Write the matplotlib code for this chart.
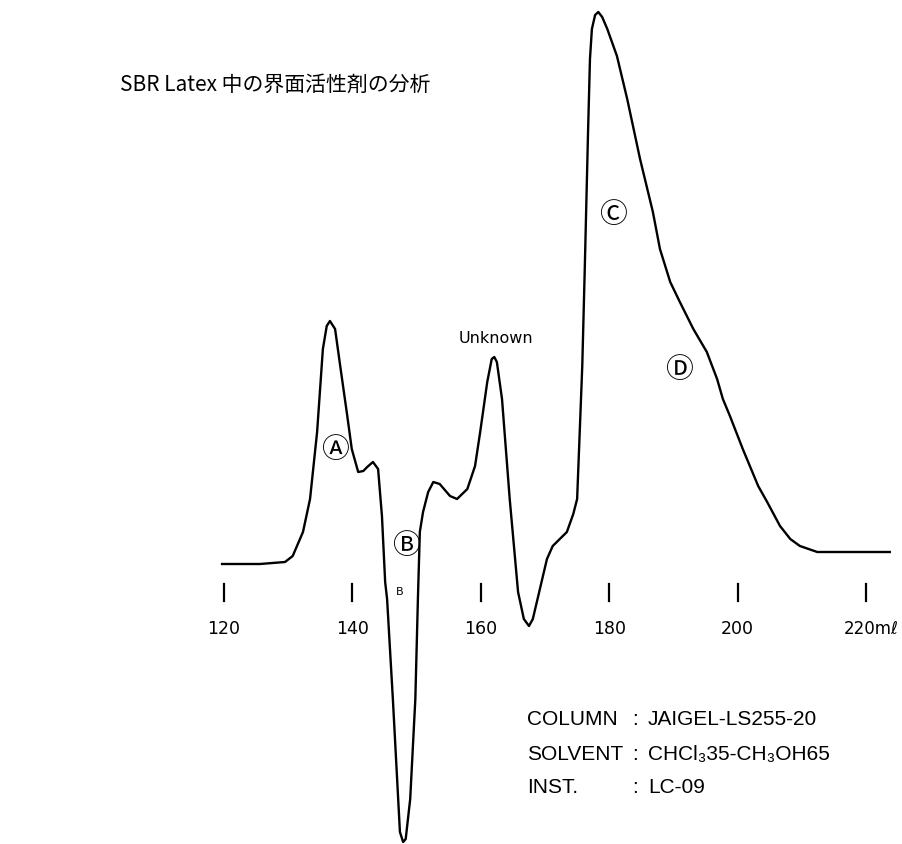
import matplotlib
matplotlib.use("Agg")
import matplotlib.pyplot as plt

# elution volume (mL) and detector response (arbitrary units, baseline = 0)
volume = [119.7, 125.6, 129.5, 130.7, 132.3, 133.4, 134.5, 135.4, 136.0, 136.5,
          137.3, 138.1, 139.2, 139.9, 140.9, 141.7, 142.3, 143.2, 144.0, 144.6,
          145.1, 145.4, 146.3, 147.4, 147.9, 148.3, 149.0, 149.8, 150.2, 150.5,
          151.0, 151.8, 152.6, 153.6, 155.2, 156.3, 157.9, 159.1, 159.9, 161.0,
          161.7, 162.1, 162.5, 163.3, 164.5, 165.8, 166.7, 167.5, 168.1, 169.2,
          170.3, 171.2, 172.3, 173.4, 174.4, 175.0, 175.5, 175.8, 176.2, 176.7,
          177.0, 177.3, 177.8, 178.3, 178.9, 179.7, 181.2, 182.8, 184.8, 186.8,
          187.9, 189.5, 191.0, 193.1, 195.2, 196.8, 197.7, 198.8, 200.8, 203.2,
          204.6, 206.6, 208.2, 209.7, 212.4, 223.7]
response = [0, 0, 2, 8, 32, 65, 132, 215, 238, 243,
            235, 198, 148, 115, 92, 93, 97, 102, 95, 48,
            -18, -35, -135, -268, -278, -275, -235, -135, -35, 32,
            52, 72, 82, 80, 68, 65, 75, 98, 132, 182,
            205, 207, 202, 165, 65, -28, -55, -62, -55, -25,
            5, 18, 25, 32, 50, 65, 148, 198, 298, 432,
            505, 535, 549, 552, 547, 535, 508, 465, 405, 352,
            315, 282, 262, 235, 212, 185, 165, 148, 115, 78,
            62, 38, 25, 18, 12, 12]

tick_values = [120, 140, 160, 180, 200, 220]
tick_labels = ["120", "140", "160", "180", "200", "220mℓ"]

peak_labels = ["Ⓐ", "Ⓑ", "Ⓒ", "Ⓓ"]
peak_pos = [(137.2, 115), (148.3, 19), (180.6, 350), (190.9, 195)]

info_keys = ["COLUMN", "SOLVENT", "INST."]
info_vals = ["JAIGEL-LS255-20", "CHCl₃35-CH₃OH65", "LC-09"]

fig = plt.figure(figsize=(9.02, 8.45), dpi=100)
ax = fig.add_axes([0, 0, 1, 1])
ax.set_xlim(85.11, 225.6)
ax.set_ylim(-280, 565)
ax.axis("off")

ax.plot(volume, response, color="black", lw=1.7, solid_joinstyle="round")

# tick marks and labels drawn under the baseline
for v, lab in zip(tick_values, tick_labels):
    ax.plot([v, v], [-20, -37], color="black", lw=1.6)
    if lab.endswith("mℓ"):
        ax.text(v - 3.4, -64, lab, ha="left", va="center", fontsize=12,
                fontfamily=["Liberation Sans Narrow", "DejaVu Sans"])
    else:
        ax.text(v, -64, lab, ha="center", va="center", fontsize=12.5,
                fontfamily="Liberation Sans Narrow")
ax.text(147.4, -27, "B", ha="center", va="center", fontsize=8)

for lab, (x, y) in zip(peak_labels, peak_pos):
    ax.text(x, y, lab, ha="center", va="center", fontsize=20,
            fontfamily=["Noto Sans CJK JP", "DejaVu Sans"])

ax.text(162.3, 226, "Unknown", ha="center", va="center", fontsize=11.5)

fig.text(120 / 902, 1 - 85 / 845, "SBR Latex 中の界面活性剤の分析",
         ha="left", va="center", fontsize=15,
         fontfamily=["Noto Sans CJK JP", "DejaVu Sans"])

# instrument conditions block
for i, (k, val) in enumerate(zip(info_keys, info_vals)):
    y = 1 - (720 + 34 * i) / 845
    fig.text(527 / 902, y, k, ha="left", va="center", fontsize=15,
             fontfamily=["Liberation Sans", "DejaVu Sans"])
    fig.text(632 / 902, y, ":", ha="left", va="center", fontsize=15,
             fontfamily=["Liberation Sans", "DejaVu Sans"])
    fig.text(648 / 902, y, val, ha="left", va="center", fontsize=15,
             fontfamily=["Liberation Sans", "DejaVu Sans"])

fig.savefig("out.png", dpi=100)
